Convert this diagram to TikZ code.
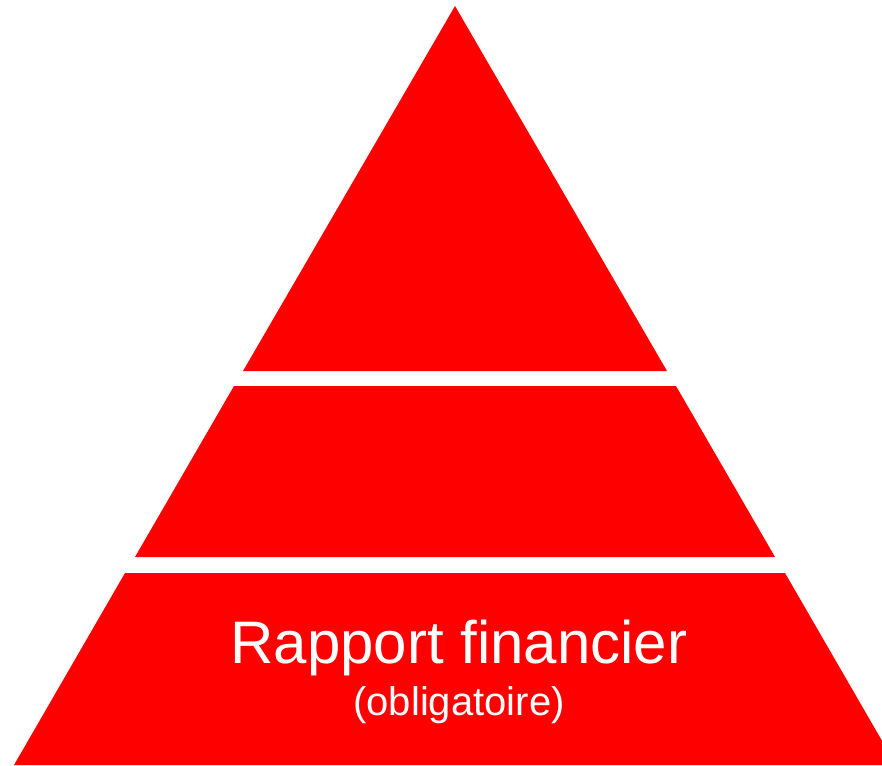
\documentclass[tikz,border=0pt]{standalone}
\usepackage{fontspec}
\setmainfont{Liberation Sans}
\definecolor{tierred}{RGB}{255,0,0}
\tikzset{tiertext/.style={white, anchor=base, inner sep=0pt}}
\begin{document}
\begin{tikzpicture}[x=1pt, y=-1pt]
    \useasboundingbox (0,0) rectangle (882,765);
    \clip (0,0) rectangle (882,765);
    \fill[tierred] (455,6) -- (667,371) -- (243,371) -- cycle;
    \fill[tierred] (234,386) -- (676,386) -- (775,557) -- (135,557) -- cycle;
    \fill[tierred] (125,573) -- (785,573) -- (896,765) -- (14,765) -- cycle;
    \node[tiertext, font=\fontsize{60}{60}\selectfont] (titre) at (459,663) {Rapport financier};
    \node[tiertext, font=\fontsize{40}{40}\selectfont] (oblig) at (459,715) {(obligatoire)};
\end{tikzpicture}
\end{document}
